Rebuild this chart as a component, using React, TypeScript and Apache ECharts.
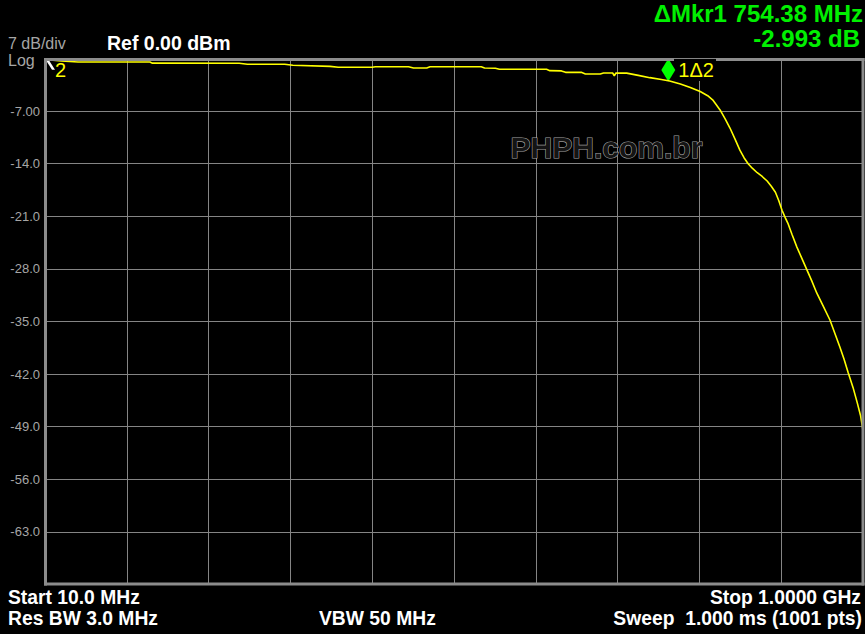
import React, { useEffect, useRef } from "react";
import * as echarts from "echarts";

// Trace: frequency (MHz) and level (dB relative to marker 2 / ref)
const freqMHz: number[] = [
  10, 16, 30, 50, 86, 137, 140, 245, 255, 300, 310, 355, 365, 406, 410, 450, 456, 472, 476, 538,
  542, 555, 560, 617, 621, 635, 640, 659, 664, 682, 686, 697, 699, 701, 714, 728, 742, 756, 766,
  779, 791, 803, 812, 818, 822, 827, 833, 839, 845, 851, 856, 861, 866, 872, 878, 884, 889, 894,
  898, 902, 906, 909, 914, 920, 926, 932, 938, 944, 952, 960, 966, 972, 977, 982, 988, 993, 997, 1000,
];
const levelDb: number[] = [
  -0.1, -0.2, -0.33, -0.47, -0.47, -0.47, -0.62, -0.64, -0.77, -0.77, -0.9, -1.05, -1.17, -1.17,
  -1.09, -1.09, -1.26, -1.26, -1.09, -1.09, -1.26, -1.3, -1.44, -1.44, -1.62, -1.65, -1.84, -1.84,
  -2.06, -2.06, -1.93, -1.93, -2.3, -1.93, -1.95, -2.25, -2.55, -2.8, -3.0, -3.39, -3.85, -4.4,
  -4.95, -5.5, -6.1, -6.85, -8.0, -9.25, -10.7, -12.2, -13.2, -14.0, -14.6, -15.2, -15.7, -16.3,
  -17.0, -17.8, -18.9, -20.2, -21.2, -21.9, -23.4, -25.1, -26.6, -28.1, -29.6, -31.2, -33.0, -34.8,
  -36.6, -38.4, -40.0, -41.8, -43.8, -45.8, -47.5, -49.5,
];

const startMHz = 10;
const stopMHz = 1000;
const refDb = 0;
const dbPerDiv = 7;
const divisions = 10;

const marker1 = { freq: 764.38, level: -2.99, label: "1Δ2" };
const marker2 = { freq: 10, level: -0.1, label: "2" };

const headerTexts = {
  scale: "7 dB/div",
  mode: "Log",
  ref: "Ref 0.00 dBm",
  mkrFreq: "ΔMkr1 754.38 MHz",
  mkrLevel: "-2.993 dB",
};
const footerTexts = {
  start: "Start 10.0 MHz",
  rbw: "Res BW 3.0 MHz",
  vbw: "VBW 50 MHz",
  stop: "Stop 1.0000 GHz",
  sweep: "Sweep  1.000 ms (1001 pts)",
};
const watermark = "PHPH.com.br";

const FONT = "'Liberation Sans', Arial, sans-serif";
const GRID_COLOR = "#858585";
const FRAME_COLOR = "#8c8c8c";

export default function App() {
  const ref = useRef<HTMLDivElement>(null);

  useEffect(() => {
    if (!ref.current) return;
    const chart = echarts.init(ref.current, null, { renderer: "svg" });
    const data = freqMHz.map((f, i) => [f, levelDb[i]]);
    const minDb = refDb - dbPerDiv * divisions;

    const option: any = {
      animation: false,
      backgroundColor: "#000",
      textStyle: { fontFamily: FONT },
      grid: { left: 45, top: 58.5, width: 818, height: 526, containLabel: false },
      xAxis: [
        {
          type: "value",
          min: startMHz,
          max: stopMHz,
          axisLine: { show: false },
          axisTick: { show: false },
          axisLabel: { show: false },
          splitLine: { show: false },
        },
        {
          type: "value",
          min: 0,
          max: divisions,
          interval: 1,
          axisLine: { show: false },
          axisTick: { show: false },
          axisLabel: { show: false },
          splitLine: { show: true, lineStyle: { color: GRID_COLOR, width: 1 } },
        },
      ],
      yAxis: {
        type: "value",
        min: minDb,
        max: refDb,
        interval: dbPerDiv,
        axisLine: { show: false },
        axisTick: { show: false },
        splitLine: { show: true, lineStyle: { color: GRID_COLOR, width: 1 } },
        axisLabel: {
          color: "#a6a6a6",
          fontSize: 13,
          fontFamily: FONT,
          margin: 5,
          formatter: (v: number) =>
            v === refDb || v === minDb ? "" : Number(v).toPrecision(3),
        },
      },
      series: [
        {
          type: "line",
          xAxisIndex: 0,
          data,
          showSymbol: false,
          symbol: "none",
          lineStyle: { color: "#ffff00", width: 1.6 },
          z: 5,
          markPoint: {
            silent: true,
            data: [
              {
                coord: [marker1.freq, marker1.level],
                symbol: "diamond",
                symbolSize: [14, 23],
                symbolOffset: [0, -11],
                itemStyle: { color: "#00ff00" },
                label: {
                  show: true,
                  formatter: marker1.label,
                  position: "right",
                  distance: 2,
                  color: "#ffff00",
                  fontSize: 20,
                  fontFamily: FONT,
                  backgroundColor: "#000",
                  padding: [1, 2, 1, 1],
                },
              },
              {
                coord: [marker2.freq, marker2.level],
                symbol: "path://M0,0 L3,0 L10,11 L7,11 Z",
                symbolSize: [10, 11],
                symbolOffset: [5, 5],
                itemStyle: { color: "#ffffff" },
                label: {
                  show: true,
                  formatter: marker2.label,
                  position: [10, 1],
                  color: "#ffff00",
                  fontSize: 20,
                  fontFamily: FONT,
                },
              },
            ],
          },
        },
      ],
      graphic: [
        // watermark
        {
          type: "text",
          left: 510,
          top: 132,
          z: 1,
          style: {
            text: watermark,
            fill: "#141414",
            stroke: "#a0a0a0",
            lineWidth: 1.2,
            font: `bold 30px ${FONT}`,
          },
        },
        // frame
        { type: "line", z: 10, shape: { x1: 45.5, y1: 58, x2: 45.5, y2: 585.5 }, style: { stroke: FRAME_COLOR, lineWidth: 3 } },
        { type: "line", z: 10, shape: { x1: 44, y1: 584, x2: 864.5, y2: 584 }, style: { stroke: FRAME_COLOR, lineWidth: 3 } },
        { type: "line", z: 10, shape: { x1: 863, y1: 58, x2: 863, y2: 585.5 }, style: { stroke: FRAME_COLOR, lineWidth: 3 } },
        { type: "line", z: 10, shape: { x1: 44, y1: 59.5, x2: 674, y2: 59.5 }, style: { stroke: FRAME_COLOR, lineWidth: 3 } },
        { type: "line", z: 10, shape: { x1: 716, y1: 59.5, x2: 864.5, y2: 59.5 }, style: { stroke: FRAME_COLOR, lineWidth: 3 } },
        // header
        { type: "text", left: 8, top: 35, style: { text: headerTexts.scale, fill: "#a6a6a6", font: `16px ${FONT}`, lineHeight: 16 } },
        { type: "text", left: 8, top: 52, style: { text: headerTexts.mode, fill: "#a6a6a6", font: `16px ${FONT}`, lineHeight: 14 } },
        { type: "text", left: 107, top: 33, style: { text: headerTexts.ref, fill: "#ffffff", font: `bold 19.5px ${FONT}` } },
        { type: "text", right: 2, top: 1, style: { text: headerTexts.mkrFreq, fill: "#00f000", font: `bold 24px ${FONT}`, lineHeight: 24 } },
        { type: "text", right: 5, top: 26, style: { text: headerTexts.mkrLevel, fill: "#00f000", font: `bold 24px ${FONT}`, lineHeight: 24 } },
        // footer
        { type: "text", left: 8, top: 588, style: { text: footerTexts.start, fill: "#ffffff", font: `bold 19.3px ${FONT}` } },
        { type: "text", left: 8, top: 609, style: { text: footerTexts.rbw, fill: "#ffffff", font: `bold 19.3px ${FONT}` } },
        { type: "text", left: 319, top: 609, style: { text: footerTexts.vbw, fill: "#ffffff", font: `bold 19.3px ${FONT}` } },
        { type: "text", right: 4, top: 588, style: { text: footerTexts.stop, fill: "#ffffff", font: `bold 19.3px ${FONT}` } },
        { type: "text", right: 3, top: 609, style: { text: footerTexts.sweep, fill: "#ffffff", font: `bold 19.3px ${FONT}`, whiteSpace: "pre" } },
      ],
    };
    chart.setOption(option);
    return () => chart.dispose();
  }, []);

  return (
    <div
      ref={ref}
      style={{ position: "fixed", left: 0, top: 0, width: 865, height: 634, background: "#000" }}
    />
  );
}
